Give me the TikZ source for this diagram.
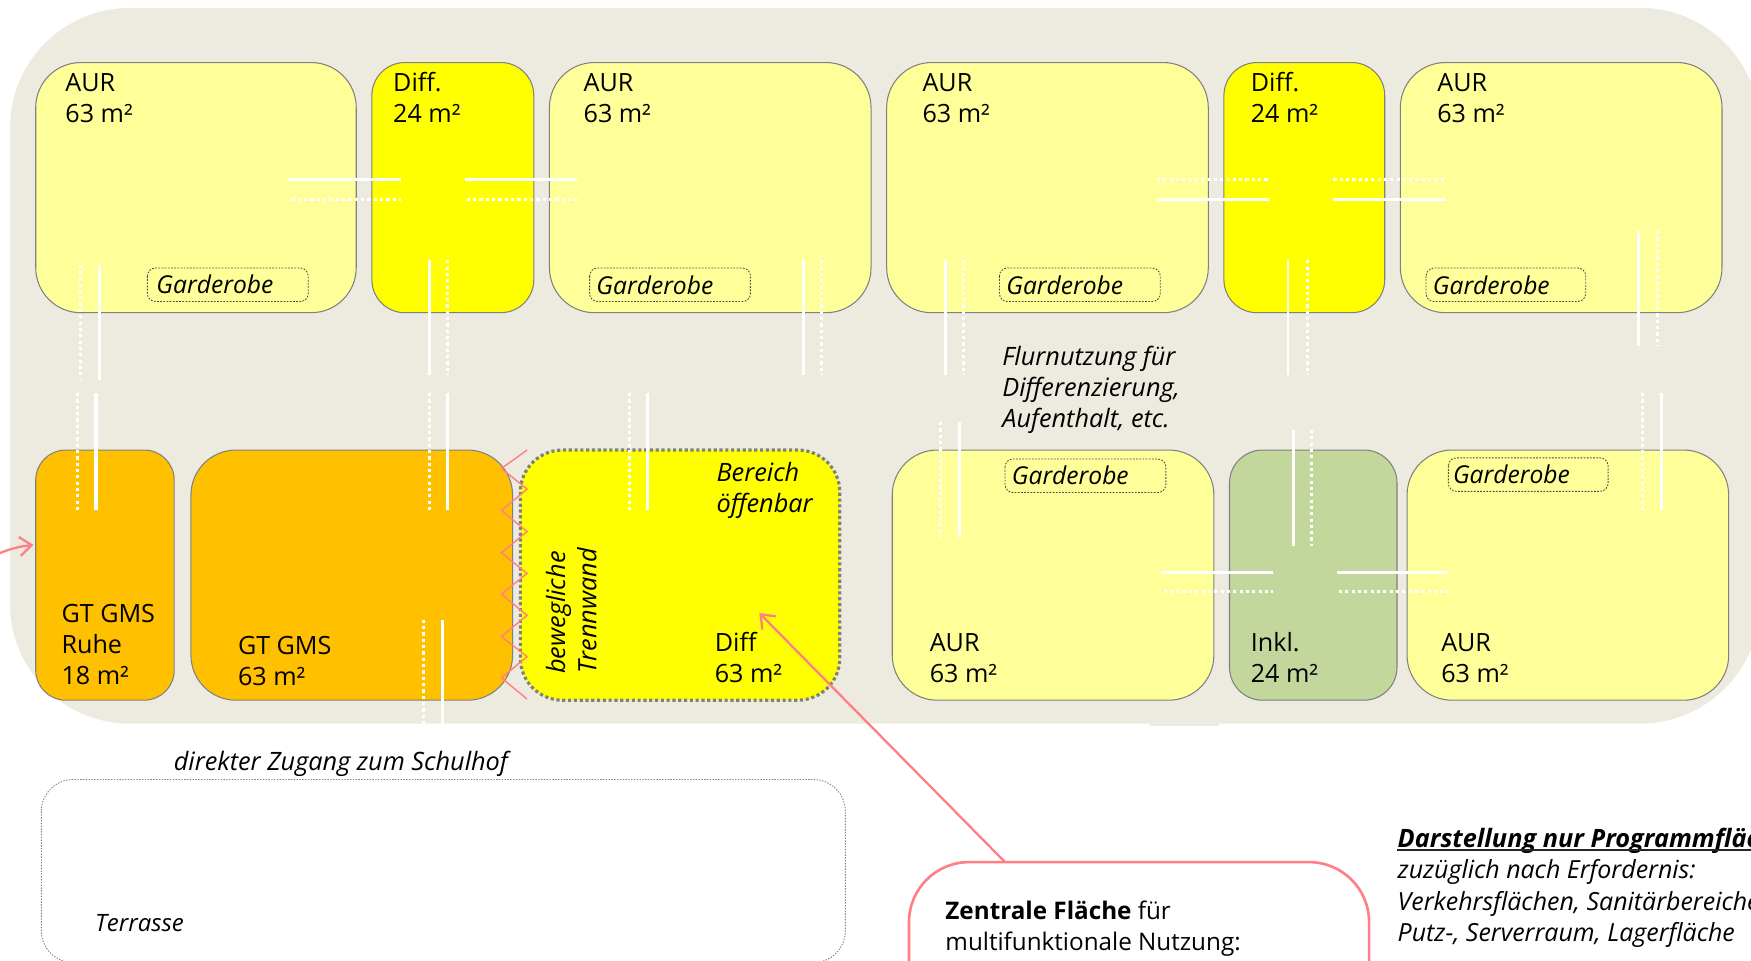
\documentclass[tikz,border=0pt]{standalone}
\usepackage{xcolor}
\usepackage{fontspec}
\usetikzlibrary{arrows.meta}
\setmainfont{Open Sans}
\definecolor{hallbg}{HTML}{EDEBE0}
\definecolor{aurfill}{HTML}{FFFF99}
\definecolor{difffill}{HTML}{FFFF00}
\definecolor{gtfill}{HTML}{FFC000}
\definecolor{inklfill}{HTML}{C3D69B}
\definecolor{roomline}{HTML}{808080}
\definecolor{pinkline}{HTML}{FF7F86}
\tikzset{
  room/.style={draw=roomline,line width=.3pt},
  wideroom/.style={room,rounded corners=.45cm},
  slimroom/.style={room,rounded corners=.33cm},
  garde/.style={draw=black!70,line width=.25pt,dash pattern=on .5pt off .4pt,rounded corners=.08cm},
  wall/.style={white,line width=.9pt},
  wallthin/.style={white,line width=.75pt},
  walldot/.style={white,line width=.85pt,dash pattern=on .9pt off .9pt},
  pinkarrow/.style={pinkline,line width=.65pt,-{Straight Barb[length=1.2mm,width=1.9mm]}},
  roomtxt/.style={anchor=base west,align=left,font=\fontsize{7.15}{8.9}\selectfont,inner sep=0pt},
  notetxt/.style={roomtxt,font=\fontsize{7.2}{8.9}\selectfont\itshape},
  gardetxt/.style={roomtxt,font=\fontsize{7}{8.9}\selectfont\itshape},
  listtxt/.style={roomtxt,font=\fontsize{7.1}{8.9}\selectfont\itshape},
  calltxt/.style={roomtxt,font=\fontsize{6.9}{8.9}\selectfont},
}
\begin{document}
\begin{tikzpicture}[x=0.011167cm,y=-0.011167cm]
\useasboundingbox (0,0) rectangle (1568,859.7);
\clip (0,0) rectangle (1568,859.7);

% hall
\fill[hallbg,rounded corners=1.2cm] (9,7) rectangle (1576,648);
\fill[hallbg] (1030,647) rectangle (1092,650);

% upper row
\draw[wideroom,fill=aurfill] (32,56) rectangle (319,280);
\draw[slimroom,fill=difffill] (333,56) rectangle (478,280);
\draw[wideroom,fill=aurfill] (492,56) rectangle (780,280);
\draw[wideroom,fill=aurfill] (794,56) rectangle (1082,280);
\draw[slimroom,fill=difffill] (1096,56) rectangle (1240,280);
\draw[wideroom,fill=aurfill] (1254,56) rectangle (1542,280);

% lower row
\draw[room,fill=gtfill,rounded corners=.3cm] (32,403) rectangle (156,627);
\draw[wideroom,fill=gtfill] (171,403) rectangle (459,627);
\fill[difffill,rounded corners=.42cm] (466,403) rectangle (752,627);
\draw[roomline,line width=.9pt,dash pattern=on .9pt off .75pt,rounded corners=.42cm] (466,403) rectangle (752,627);
\draw[wideroom,fill=aurfill] (799,403) rectangle (1087,627);
\draw[slimroom,fill=inklfill] (1101,403) rectangle (1251,627);
\draw[wideroom,fill=aurfill] (1260,403) rectangle (1548,627);

% garderobe
\draw[garde] (132,240) rectangle (276,270);
\draw[garde] (528,240) rectangle (672,270);
\draw[garde] (895,240) rectangle (1039,270);
\draw[garde] (1277,240) rectangle (1420,270);
\draw[garde] (900,411) rectangle (1044,441);
\draw[garde] (1297,410) rectangle (1440,440);

% doors, upper row
\draw[wall] (258,160.5) -- (359,160.5);
\draw[walldot] (261,178.5) -- (359,178.5);
\draw[wall] (416,160.5) -- (517,160.5);
\draw[walldot] (418,178.5) -- (517,178.5);
\draw[walldot] (1036,160.5) -- (1136,160.5);
\draw[wall] (1036,178.5) -- (1136,178.5);
\draw[walldot] (1194,160.5) -- (1295,160.5);
\draw[wall] (1194,178.5) -- (1295,178.5);
\draw[walldot] (72,237) -- (72,340);
\draw[wallthin] (89,237) -- (89,340);
\draw[wallthin] (384.5,233) -- (384.5,336);
\draw[walldot] (401,233) -- (401,336);
\draw[wallthin] (719.5,233) -- (719.5,336);
\draw[walldot] (736,233) -- (736,336);
\draw[wallthin] (846.5,233) -- (846.5,336);
\draw[walldot] (863,233) -- (863,336);
\draw[wallthin] (1153.5,233) -- (1153.5,336);
\draw[walldot] (1171,233) -- (1171,336);
\draw[wallthin] (1467.5,207) -- (1467.5,310);
\draw[walldot] (1484,207) -- (1484,310);

% doors, lower row
\draw[walldot] (69,352) -- (69,457);
\draw[wall] (86,352) -- (86,457);
\draw[walldot] (384.5,352) -- (384.5,457);
\draw[wall] (400.5,352) -- (400.5,457);
\draw[walldot] (563.5,352) -- (563.5,457);
\draw[wall] (580,352) -- (580,457);
\draw[walldot] (842,378) -- (842,481);
\draw[wall] (859,378) -- (859,481);
\draw[wall] (1158,385) -- (1158,489);
\draw[walldot] (1174,385) -- (1174,489);
\draw[walldot] (1471,352) -- (1471,457);
\draw[wall] (1488,352) -- (1488,457);
\draw[walldot] (379,555) -- (379,648);
\draw[wall] (396,555) -- (396,648);
\draw[wall] (1040,512.5) -- (1140,512.5);
\draw[walldot] (1042,529.5) -- (1140,529.5);
\draw[wall] (1197,512.5) -- (1297,512.5);
\draw[walldot] (1199,529.5) -- (1297,529.5);

% folding wall
\draw[pinkline,line width=.4pt] (472,403) -- (449,419.5) -- (472,438) -- (449,457) -- (472,476) -- (449,495) -- (472,513.5) -- (449,532) -- (472,551) -- (449,570) -- (472,588) -- (449,607) -- (472,626);

% terrace and callout
\draw[black!50,line width=.25pt,dash pattern=on .4pt off .4pt,rounded corners=.32cm] (37,698) rectangle (757,862);
\draw[pinkline,line width=.75pt,rounded corners=.6cm] (814,900) -- (814,772) -- (1226,772) -- (1226,900);
\coordinate (calltop) at (900,772);
\coordinate (difftip) at (680,549);
\coordinate (sidestart) at (-2,496);
\coordinate (sidetip) at (30,488);
\draw[pinkarrow] (calltop) -- (difftip);
\draw[pinkarrow] (sidestart) to[bend left=8] (sidetip);

% room labels
\node[roomtxt] (aura) at (58,82) {AUR};
\node[roomtxt] (aurb) at (58,110) {63 m²};
\node[roomtxt] (diffa) at (351.5,82) {Diff.};
\node[roomtxt] (diffb) at (351.5,110) {24 m²};
\node[roomtxt] (aurc) at (522,82) {AUR};
\node[roomtxt] (aurd) at (522,110) {63 m²};
\node[roomtxt] (aure) at (825.5,82) {AUR};
\node[roomtxt] (aurf) at (825.5,110) {63 m²};
\node[roomtxt] (diffc) at (1119.5,82) {Diff.};
\node[roomtxt] (diffd) at (1119.5,110) {24 m²};
\node[roomtxt] (aurg) at (1286.5,82) {AUR};
\node[roomtxt] (aurh) at (1286.5,110) {63 m²};
\node[roomtxt] (ruhea) at (54.5,557) {GT GMS};
\node[roomtxt] (ruheb) at (54.5,585) {Ruhe};
\node[roomtxt] (ruhec) at (54.5,613) {18 m²};
\node[roomtxt] (gta) at (212.5,586) {GT GMS};
\node[roomtxt] (gtb) at (212.5,614) {63 m²};
\node[roomtxt] (diffe) at (639.5,583) {Diff};
\node[roomtxt] (difff) at (639.5,611) {63 m²};
\node[roomtxt] (auri) at (832,583) {AUR};
\node[roomtxt] (aurj) at (832,611) {63 m²};
\node[roomtxt] (inkla) at (1119.5,583) {Inkl.};
\node[roomtxt] (inklb) at (1119.5,611) {24 m²};
\node[roomtxt] (aurk) at (1290,583) {AUR};
\node[roomtxt] (aurl) at (1290,611) {63 m²};

% notes
\node[gardetxt] (gardea) at (139.5,263) {Garderobe};
\node[gardetxt] (gardeb) at (533.5,264) {Garderobe};
\node[gardetxt] (gardec) at (900.5,264) {Garderobe};
\node[gardetxt] (garded) at (1282.5,264) {Garderobe};
\node[gardetxt] (gardee) at (905.5,434) {Garderobe};
\node[gardetxt] (gardef) at (1300.5,433) {Garderobe};
\node[notetxt] (flura) at (897,327) {Flurnutzung für};
\node[notetxt] (flurb) at (897,355) {Differenzierung,};
\node[notetxt] (flurc) at (897,383) {Aufenthalt, etc.};
\node[notetxt] (opena) at (641,431) {Bereich};
\node[notetxt] (openb) at (641,459) {öffenbar};
\node[notetxt,rotate=90] (trenna) at (506,604) {bewegliche};
\node[notetxt,rotate=90] (trennb) at (534,604) {Trennwand};
\node[notetxt] (hof) at (155,690) {direkter Zugang zum Schulhof};
\node[gardetxt,font=\fontsize{6.8}{8.9}\selectfont\itshape] (terr) at (84.5,834.5) {Terrasse};
\node[calltxt] (calla) at (846,823.5) {\textbf{Zentrale Fläche} für};
\node[calltxt] (callb) at (846,851.5) {multifunktionale Nutzung:};
\node[notetxt] (noted) at (1251,759) {\textbf{Darstellung nur Programmflächen}};
\draw[black!85,line width=.55pt] ([yshift=-.8pt]noted.base west) -- ([yshift=-.8pt]noted.base east);
\node[listtxt] (notee) at (1251,787) {zuzüglich nach Erfordernis:};
\node[listtxt] (notef) at (1251,815) {Verkehrsflächen, Sanitärbereiche,};
\node[listtxt] (noteg) at (1251,843) {Putz-, Serverraum, Lagerfläche};
\end{tikzpicture}
\end{document}
